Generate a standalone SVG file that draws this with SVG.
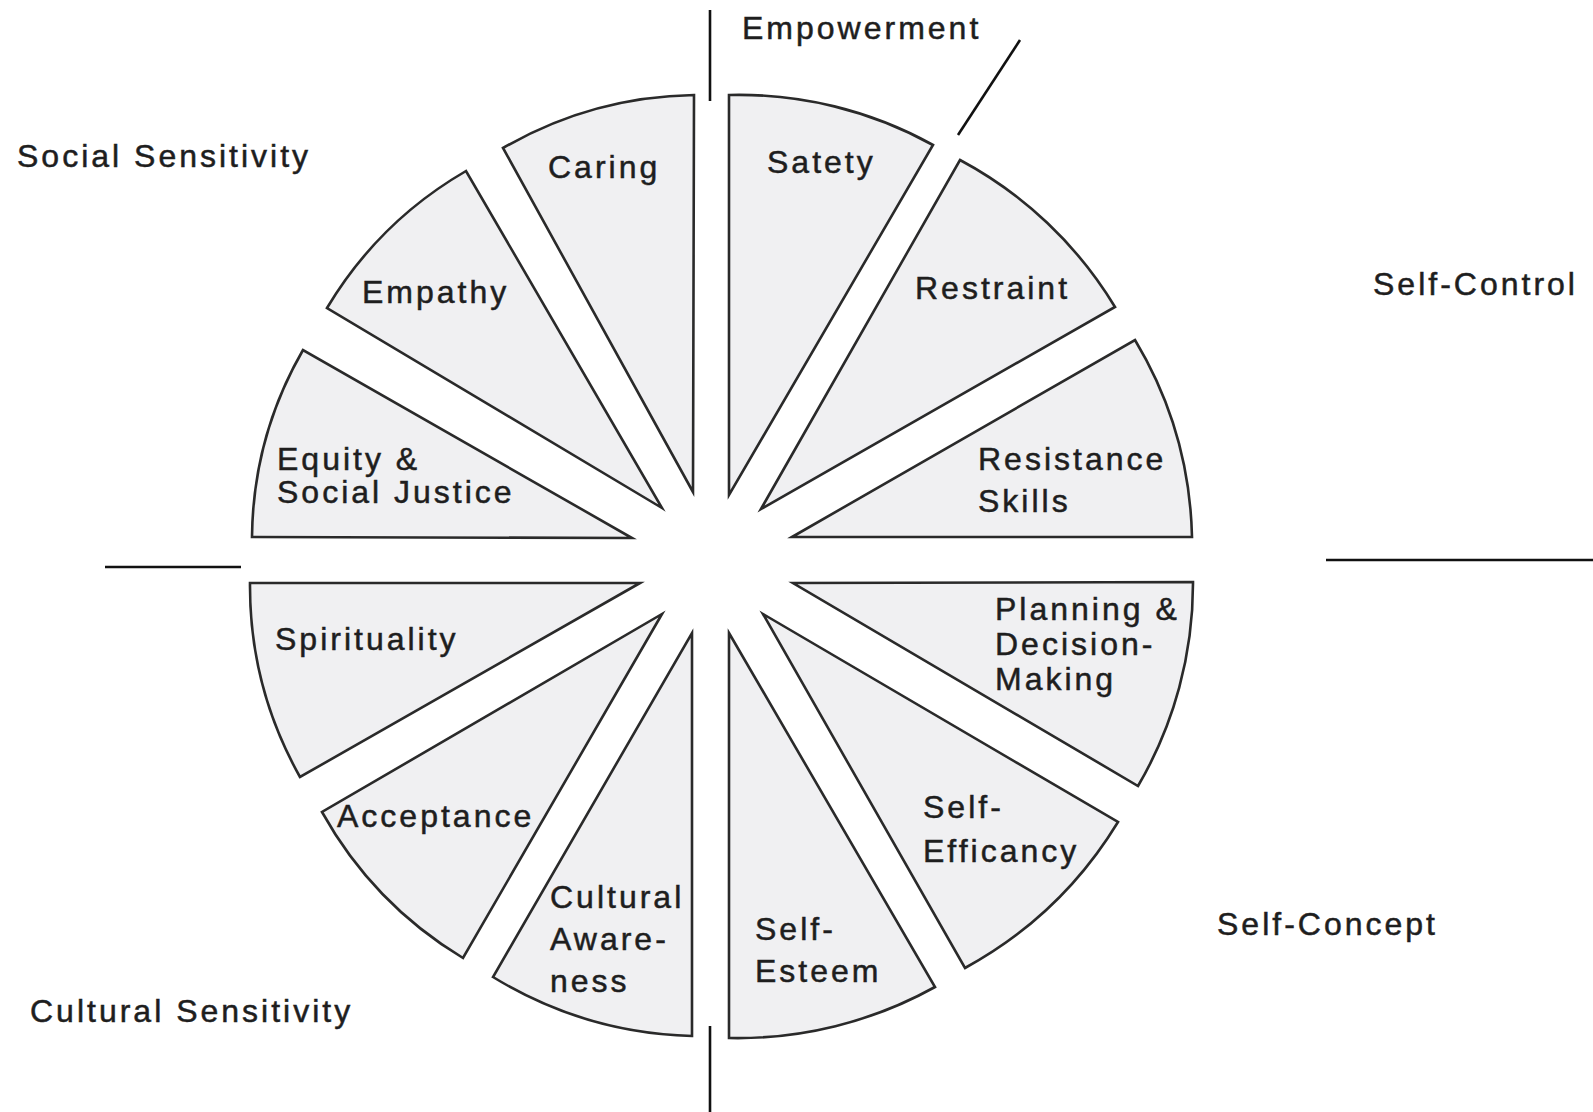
<svg xmlns="http://www.w3.org/2000/svg" width="1593" height="1112" viewBox="0 0 1593 1112">
<style>
.w{fill:#f0f0f2;stroke:#2a2a2a;stroke-width:2.6;stroke-linejoin:miter}
.t{font-family:"Liberation Sans",Arial,Helvetica,sans-serif;font-size:32px;letter-spacing:3px;fill:#1e1e1e;stroke:#1e1e1e;stroke-width:0.5}
.ln{stroke:#111;stroke-width:2.6;fill:none}
</style>
<rect width="1593" height="1112" fill="#ffffff"/>
<g id="connectors">
<line class="ln" x1="710" y1="10" x2="710" y2="101"/>
<line class="ln" x1="1020" y1="40" x2="958" y2="135"/>
<line class="ln" x1="105" y1="567" x2="241" y2="567"/>
<line class="ln" x1="1326" y1="560" x2="1593" y2="560"/>
<line class="ln" x1="710" y1="1026" x2="710" y2="1112"/>
</g>
<g id="caring"><path class="w" d="M693,492 L503,148 A395,395 0 0 1 694,95 Z"/><text class="t" x="548" y="178">Caring</text></g>
<g id="empathy"><path class="w" d="M662,508 L327,308 A390,390 0 0 1 466,171 Z"/><text class="t" x="362" y="303">Empathy</text></g>
<g id="equity"><path class="w" d="M632,538 L252,537 A382,382 0 0 1 303,350 Z"/><text class="t" x="277" y="470">Equity &amp;</text><text class="t" x="277" y="503">Social Justice</text></g>
<g id="safety"><path class="w" d="M729,495 L729,95 A400,400 0 0 1 933,145 Z"/><text class="t" x="767" y="173">Satety</text></g>
<g id="restraint"><path class="w" d="M761,509 L960,160 A403,403 0 0 1 1115,307 Z"/><text class="t" x="915" y="299">Restraint</text></g>
<g id="resistance"><path class="w" d="M792,537 L1135,340 A400,400 0 0 1 1192,537 Z"/><text class="t" x="978" y="470">Resistance</text><text class="t" x="978" y="512">Skills</text></g>
<g id="planning"><path class="w" d="M793,583 L1193,582 A400,400 0 0 1 1138,786 Z"/><text class="t" x="995" y="620">Planning &amp;</text><text class="t" x="995" y="655">Decision-</text><text class="t" x="995" y="690">Making</text></g>
<g id="self-efficacy"><path class="w" d="M763,614 L1118,822 A408,408 0 0 1 965,968 Z"/><text class="t" x="923" y="818">Self-</text><text class="t" x="923" y="862">Efficancy</text></g>
<g id="self-esteem"><path class="w" d="M729,633 L935,987 A406,406 0 0 1 729,1038 Z"/><text class="t" x="755" y="940">Self-</text><text class="t" x="755" y="982">Esteem</text></g>
<g id="cultural-awareness"><path class="w" d="M692,633 L692,1036 A402,402 0 0 1 493,977 Z"/><text class="t" x="550" y="908">Cultural</text><text class="t" x="550" y="950">Aware-</text><text class="t" x="550" y="992">ness</text></g>
<g id="acceptance"><path class="w" d="M662,614 L463,958 A395,395 0 0 1 322,812 Z"/><text class="t" x="337" y="827">Acceptance</text></g>
<g id="spirituality"><path class="w" d="M640,583 L300,777 A390,390 0 0 1 250,583 Z"/><text class="t" x="275" y="650">Spirituality</text></g>
<g id="labels">
<text class="t" x="742" y="39">Empowerment</text>
<text class="t" x="17" y="167">Social Sensitivity</text>
<text class="t" x="1373" y="295">Self-Control</text>
<text class="t" x="1217" y="935">Self-Concept</text>
<text class="t" x="30" y="1022">Cultural Sensitivity</text>
</g>
</svg>
